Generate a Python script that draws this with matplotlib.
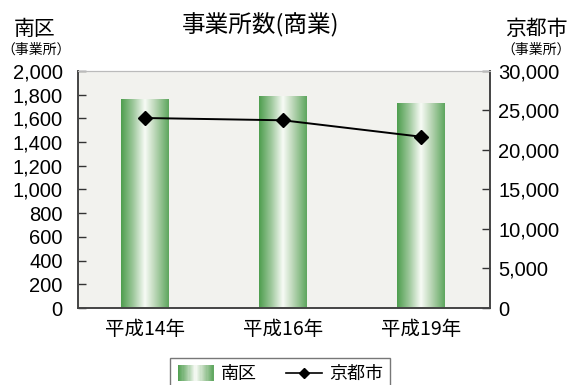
import numpy as np
import matplotlib
matplotlib.use('Agg')
import matplotlib.pyplot as plt
from matplotlib.colors import LinearSegmentedColormap
from matplotlib.patches import Rectangle
from matplotlib.lines import Line2D
from matplotlib.legend_handler import HandlerBase

plt.rcParams['font.family'] = ['Liberation Sans', 'Noto Sans CJK JP']

years = ['平成14年', '平成16年', '平成19年']
minami = [1763, 1781, 1727]      # 南区 (左軸)
kyoto = [24050, 23760, 21680]    # 京都市 (右軸)

jp = ['Noto Sans CJK JP', 'DejaVu Sans']
green = LinearSegmentedColormap.from_list(
    'barg', [(0.0, '#4e9e4e'), (0.25, '#9cc79a'), (0.5, '#f8fbf6'),
             (0.72, '#b8d5b4'), (1.0, '#5ea65e')])


class GradHandler(HandlerBase):
    def create_artists(self, legend, orig, xd, yd, w, h, fontsize, trans):
        n = 30
        arts = []
        for i in range(n):
            r = Rectangle((xd + w * i / n, yd - h * 0.1), w / n + 0.3, h * 1.2,
                          facecolor=green((i + 0.5) / n), edgecolor='none',
                          transform=trans)
            arts.append(r)
        return arts


fig = plt.figure(figsize=(5.72, 3.85), dpi=100)
ax = fig.add_axes([0.1364, 0.2, 0.7203, 0.6156])
ax.set_facecolor('#f2f2ee')

x = np.arange(len(years))
bw = 0.345
grad = np.linspace(0, 1, 200).reshape(1, -1)
for xi, v in zip(x, minami):
    ax.imshow(grad, cmap=green, aspect='auto', interpolation='bilinear',
              extent=[xi - bw / 2, xi + bw / 2, 0, v], zorder=2)

ax.set_xlim(-0.486, 2.5)
ax.set_ylim(0, 2000)
ax.set_yticks(np.arange(0, 2001, 200))
ax.set_yticklabels([f'{v:,}' for v in range(0, 2001, 200)])
ax.set_xticks(x)
ax.set_xticklabels(years, family=jp)
ax.tick_params(axis='y', direction='in', length=6, width=1, color='#333333',
               labelsize=14.5, pad=11)
ax.tick_params(axis='x', length=0, labelsize=14, pad=8)

ax2 = ax.twinx()
ax2.plot(x, kyoto, color='black', lw=1.4, marker='D', markersize=7, zorder=3)
ax2.set_ylim(0, 30000)
ax2.set_yticks(np.arange(0, 30001, 5000))
ax2.set_yticklabels([f'{v:,}' for v in range(0, 30001, 5000)])
ax2.tick_params(axis='y', direction='in', length=6, width=1, color='#333333',
                labelsize=14.5, pad=6)

for a in (ax, ax2):
    for s in ('left', 'bottom', 'right'):
        a.spines[s].set_color('#444444')
        a.spines[s].set_linewidth(1.2)
    a.spines['top'].set_color('#bbbbbb')

fig.text(0.455, 0.935, '事業所数(商業)', family=jp, fontsize=17,
         ha='center', va='center')
fig.text(0.061, 0.925, '南区', family=jp, fontsize=15, ha='center', va='center')
fig.text(0.063, 0.872, '（事業所）', family=jp, fontsize=10, ha='center', va='center')
fig.text(0.937, 0.925, '京都市', family=jp, fontsize=15, ha='center', va='center')
fig.text(0.937, 0.872, '（事業所）', family=jp, fontsize=10, ha='center', va='center')

handles = [Rectangle((0, 0), 1, 1), Line2D([], [], color='black', lw=1.2,
                                           marker='D', markersize=5)]
leg = fig.legend(handles, ['南区', '京都市'], loc='upper center',
                 bbox_to_anchor=(0.49, 0.07), ncol=2, frameon=True,
                 fancybox=False, edgecolor='#555555', prop={'family': jp, 'size': 13},
                 handler_map={Rectangle: GradHandler()}, handlelength=2.0,
                 handletextpad=0.4, columnspacing=1.6, borderpad=0.4,
                 borderaxespad=0)
leg.get_frame().set_linewidth(1.0)

fig.savefig('out.png', dpi=100)
